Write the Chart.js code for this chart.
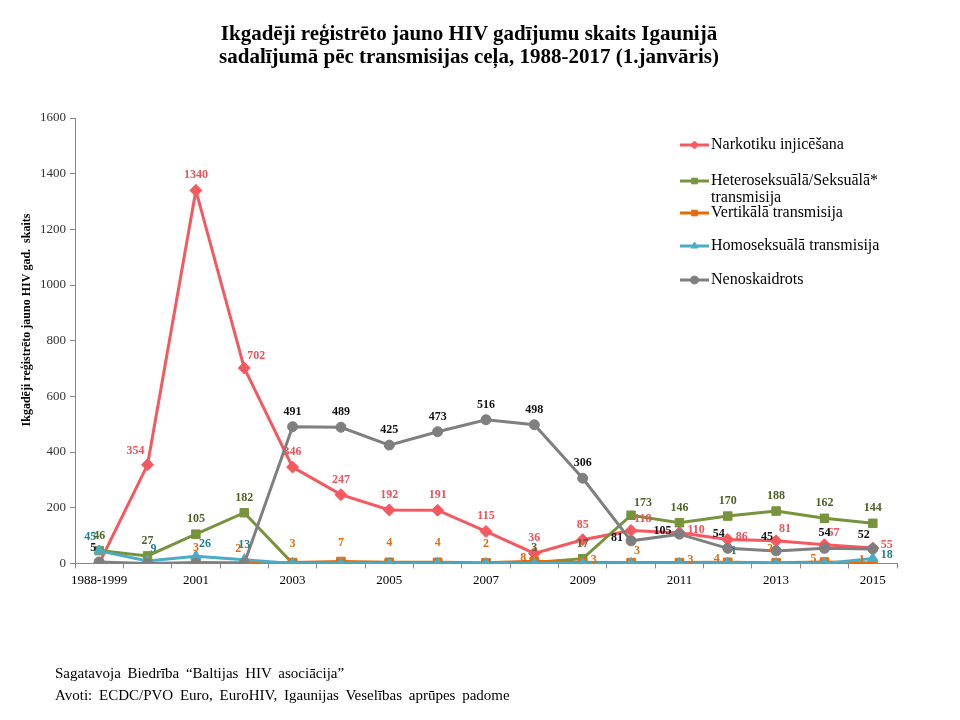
<!DOCTYPE html>
<html>
<head>
<meta charset="utf-8">
<script src="https://cdn.jsdelivr.net/npm/chart.js@4"></script>
<style>
  body { margin: 0; background: #fff; }
  #wrap { position: relative; width: 960px; height: 720px; }
  #title { position: absolute; left: 0; top: 22px; width: 938px; text-align: center;
    font: bold 21px "Liberation Serif", serif; line-height: 23px; color: #000; }
  #foot { position: absolute; left: 55px; top: 662px; font: 15px "Liberation Serif", serif;
    line-height: 22px; word-spacing: 3px; color: #000; }
</style>
</head>
<body>
<div id="wrap">
  <canvas id="hivChart" width="960" height="720"></canvas>
  <div id="title">Ikgadēji reģistrēto jauno HIV gadījumu skaits Igaunijā<br>sadalījumā pēc transmisijas ceļa, 1988-2017 (1.janvāris)</div>
  <div id="foot">Sagatavoja Biedrība  “Baltijas  HIV asociācija”<br>Avoti:  ECDC/PVO Euro, EuroHIV, Igaunijas  Veselības  aprūpes padome</div>
</div>
<script>
const years = ['1988-1999', '2000', '2001', '2002', '2003', '2004', '2005', '2006', '2007',
  '2008', '2009', '2010', '2011', '2012', '2013', '2014', '2015'];

const narkotiku = [0, 354, 1340, 702, 346, 247, 192, 191, 115, 36, 85, 118, 110, 86, 81, 67, 55];
const heteroseksuala = [46, 27, 105, 182, 0, 0, 0, 0, 0, 3, 17, 173, 146, 170, 188, 162, 144];
const vertikala = [0, 0, 3, 2, 3, 7, 4, 4, 2, 8, 3, 3, 3, 4, 2, 5, 1];
const homoseksuala = [45, 9, 26, 13, 0, 0, 0, 0, 0, 0, 0, 0, 0, 1, 0, 0, 18];
const nenoskaidrots = [5, 0, 0, 0, 491, 489, 425, 473, 516, 498, 306, 81, 105, 54, 45, 54, 52];

const yTicks = [0, 200, 400, 600, 800, 1000, 1200, 1400, 1600];

const serif = '"Liberation Serif", "Times New Roman", serif';

// where each value label sits relative to its point
const labelPlace = [
  ['', 'tl', 't', 'tr', 't', 't', 't', 't', 't', 't', 't', 'tr', 'r', 'r', 'tr', 'tr', 'r'],
  ['t', 't', 't', 't', '', '', '', '', '', 't', 't', 'tr', 't', 't', 't', 't', 't'],
  ['', '', 't', 'tl', 'T', 'T', 'T', 'T', 'T', 'l', 'r', 'tr', 'r', 'l', 'tl', 'l', 'l'],
  ['tl', 'tr', 'tr', 't', '', '', '', '', '', '', '', '', '', 'tr', '', '', 'r'],
  ['tl', '', '', '', 't', 't', 't', 't', 't', 't', 't', 'l', 'l', 'tl', 'tl', 't', 'tl']
];

const valueLabels = {
  id: 'valueLabels',
  afterDatasetsDraw(chart) {
    const ctx = chart.ctx;
    ctx.save();
    ctx.font = 'bold 12px ' + serif;
    chart.data.datasets.forEach((ds, i) => {
      const meta = chart.getDatasetMeta(i);
      meta.data.forEach((pt, j) => {
        const pos = labelPlace[i][j];
        if (!pos || !ds.data[j]) return;
        let x = pt.x, y = pt.y;
        ctx.fillStyle = ds.labelColor;
        if (pos === 't' || pos === 'T') {
          ctx.textAlign = 'center'; ctx.textBaseline = 'bottom';
          y -= pos === 'T' ? 13 : 9;
        } else if (pos === 'tl') {
          ctx.textAlign = 'right'; ctx.textBaseline = 'bottom'; x -= 3; y -= 8;
        } else if (pos === 'tr') {
          ctx.textAlign = 'left'; ctx.textBaseline = 'bottom'; x += 3; y -= 6;
        } else if (pos === 'l') {
          ctx.textAlign = 'right'; ctx.textBaseline = 'middle'; x -= 8; y -= 3;
        } else {
          ctx.textAlign = 'left'; ctx.textBaseline = 'middle'; x += 8; y -= 3;
        }
        ctx.fillText(ds.data[j], x, y);
      });
    });
    ctx.restore();
  }
};

const sideLegend = {
  id: 'sideLegend',
  afterDraw(chart) {
    const ctx = chart.ctx;
    const rows = [145, 181, 213, 246, 280];
    ctx.save();
    chart.data.datasets.forEach((ds, i) => {
      const y = rows[i];
      ctx.strokeStyle = ds.borderColor;
      ctx.lineWidth = 3;
      ctx.beginPath();
      ctx.moveTo(680, y);
      ctx.lineTo(709, y);
      ctx.stroke();
      ctx.fillStyle = ds.backgroundColor;
      ctx.lineWidth = 1;
      Chart.helpers.drawPoint(ctx, {
        pointStyle: ds.pointStyle, radius: 4, borderWidth: 1, rotation: 0
      }, 694.5, y);
      ctx.font = '16px ' + serif;
      ctx.fillStyle = '#000';
      ctx.textAlign = 'left';
      ctx.textBaseline = 'middle';
      ds.label.split('\n').forEach((t, k) => ctx.fillText(t, 711, y + k * 17));
    });
    ctx.restore();
  }
};

const yTitle = {
  id: 'yTitle',
  afterDraw(chart) {
    const ctx = chart.ctx;
    ctx.save();
    ctx.translate(27, 320);
    ctx.rotate(-Math.PI / 2);
    ctx.font = 'bold 12px ' + serif;
    ctx.fillStyle = '#000';
    ctx.textAlign = 'center';
    ctx.textBaseline = 'middle';
    ctx.fillText('Ikgadēji reģistrēto jauno HIV gad.  skaits', 0, 0);
    ctx.restore();
  }
};

function series(label, data, color, labelColor, style, radius, order) {
  return {
    label, data, order,
    borderColor: color,
    backgroundColor: color,
    labelColor,
    borderWidth: 3,
    pointStyle: style,
    pointRadius: radius,
    pointBorderWidth: 1,
    tension: 0
  };
}

new Chart(document.getElementById('hivChart'), {
  type: 'line',
  data: {
    labels: years,
    datasets: [
      series('Narkotiku injicēšana', narkotiku, '#F5585F', '#EE5159', 'rectRot', 6, 5),
      series('Heteroseksuālā/Seksuālā*\ntransmisija', heteroseksuala, '#77933C', '#4F6228', 'rect', 6, 4),
      series('Vertikālā transmisija', vertikala, '#E46C0A', '#E46C0A', 'rect', 6, 3),
      series('Homoseksuālā transmisija', homoseksuala, '#4BACC6', '#1F7F8E', 'triangle', 6, 2),
      series('Nenoskaidrots', nenoskaidrots, '#7F7F7F', '#111', 'circle', 5, 1)
    ]
  },
  options: {
    responsive: false,
    animation: false,
    layout: { padding: { left: 36, right: 63, top: 118, bottom: 128 } },
    plugins: {
      legend: { display: false },
      tooltip: { enabled: false },
      title: { display: false }
    },
    scales: {
      x: {
        offset: true,
        grid: { offset: true, drawOnChartArea: false, tickLength: 5, color: '#868686' },
        border: { color: '#868686', width: 1 },
        ticks: {
          autoSkip: false,
          maxRotation: 0,
          padding: 4,
          color: '#000',
          font: { family: serif, size: 13 },
          callback: (v, i) => (i % 2 === 0 ? years[i] : '')
        }
      },
      y: {
        min: 0,
        max: 1600,
        afterBuildTicks: axis => { axis.ticks = yTicks.map(v => ({ value: v })); },
        grid: { drawOnChartArea: false, tickLength: 5, color: '#868686' },
        border: { color: '#868686', width: 1 },
        ticks: {
          color: '#333', padding: 4, font: { family: serif, size: 13 },
          callback: v => String(v)
        }
      }
    }
  },
  plugins: [valueLabels, sideLegend, yTitle]
});
</script>
</body>
</html>
